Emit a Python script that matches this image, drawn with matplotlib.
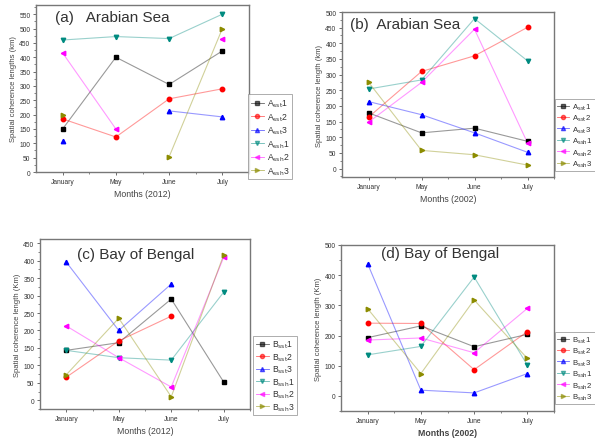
import numpy as np
import matplotlib
matplotlib.use("Agg")
import matplotlib.pyplot as plt
from matplotlib.lines import Line2D

plt.rcParams['font.family'] = ['Liberation Sans', 'DejaVu Sans']

months = ["January", "May", "June", "July"]
nan = np.nan

# (a) Arabian Sea 2012
a_sst1 = [150, 400, 305, 422]
a_sst2 = [185, 122, 255, 290]
a_sst3 = [108, nan, 213, 192]
a_ssh1 = [460, 472, 465, 550]
a_ssh2 = [415, 150, nan, 465]
a_ssh3 = [200, nan, 53, 500]

# (b) Arabian Sea 2002
b_sst1 = [178, 114, 129, 87]
b_sst2 = [164, 310, 360, 451]
b_sst3 = [214, 172, 114, 52]
b_ssh1 = [254, 283, 479, 344]
b_ssh2 = [148, 275, 445, 82]
b_ssh3 = [276, 58, 44, 11]

# (c) Bay of Bengal 2012
c_sst1 = [143, 165, 290, 52]
c_sst2 = [66, 170, 241, nan]
c_sst3 = [396, 200, 333, nan]
c_ssh1 = [143, 122, 115, 310]
c_ssh2 = [213, 122, 38, 410]
c_ssh3 = [73, 235, 10, 417]

# (d) Bay of Bengal 2002
d_sst1 = [193, 232, 163, 204]
d_sst2 = [241, 240, 87, 213]
d_sst3 = [438, 19, 10, 74]
d_ssh1 = [136, 164, 394, 102]
d_ssh2 = [185, 192, 143, 290]
d_ssh3 = [289, 74, 318, 124]

colors = ["#000000", "#ff0000", "#0000ff", "#008b80", "#ff00ff", "#8c8c00"]
markers = ["s", "o", "^", "v", "<", ">"]

fig = plt.figure(figsize=(5.95, 4.39), dpi=100)
W, H = 595, 439


def px_axes(x0, y0, x1, y1):
    return fig.add_axes([x0 / W, (H - y1) / H, (x1 - x0) / W, (y1 - y0) / H])


def panel(ax, series, labels, title, tpos, ylabel, xlabel, ylim, ymajor, yminor,
          leg_pos, leg_fs=6.2, xbold=False):
    x = np.arange(len(months))
    for s, c, m in zip(series, colors, markers):
        y = np.array(s, dtype=float)
        ax.plot(x, y, '-', color=c, lw=0.8, alpha=0.4, zorder=2)
        ax.plot(x, y, linestyle='None', color=c, marker=m, ms=3.2,
                mec=c, mfc=c, zorder=3)
    ax.set_xlim(-0.5, 3.5)
    ax.set_ylim(*ylim)
    ax.set_xticks(x)
    ax.set_xticklabels(months, fontsize=4.8)
    ax.set_xticks(np.arange(0.0, 3.6, 0.5), minor=True)
    ax.set_yticks(ymajor)
    ax.set_yticklabels([str(v) for v in ymajor], fontsize=4.8)
    ax.set_yticks(yminor, minor=True)
    ax.tick_params(axis='both', which='major', direction='out', length=2.5,
                   width=0.6, pad=1.5, colors="#555555", labelcolor="#333333")
    ax.tick_params(axis='both', which='minor', direction='out', length=1.5,
                   width=0.5, colors="#555555")
    for sp in ax.spines.values():
        sp.set_color("#777777")
        sp.set_linewidth(1.0)
    ax.set_ylabel(ylabel, fontsize=5.5, color="#444444", labelpad=2)
    ax.set_xlabel(xlabel, fontsize=6.3, color="#444444", labelpad=3,
                  fontweight='bold' if xbold else 'normal')
    ax.text(tpos[0], tpos[1], title, transform=ax.transAxes, fontsize=11,
            color="#333333", va='center', ha='left')
    lh = [Line2D([0], [0], color=c, lw=0.6, alpha=0.6, marker=m, ms=3,
                 mfc=c, mec=c) for c, m in zip(colors, markers)]
    lx0, ly0 = leg_pos
    leg = fig.legend(lh, labels, loc='upper left',
                     bbox_to_anchor=(lx0 / W, (H - ly0) / H),
                     fontsize=leg_fs, frameon=True, fancybox=False,
                     handlelength=1.5, handletextpad=0.35, labelspacing=0.12,
                     borderpad=0.3, borderaxespad=0.0)
    leg.get_frame().set_edgecolor("#888888")
    leg.get_frame().set_linewidth(0.6)
    for t in leg.get_texts():
        t.set_color("#333333")


la = [r"A$_{\rm sst}$1", r"A$_{\rm sst}$2", r"A$_{\rm sst}$3",
      r"A$_{\rm ssh}$1", r"A$_{\rm ssh}$2", r"A$_{\rm ssh}$3"]
lb = [r"B$_{\rm sst}$1", r"B$_{\rm sst}$2", r"B$_{\rm sst}$3",
      r"B$_{\rm ssh}$1", r"B$_{\rm ssh}$2", r"B$_{\rm ssh}$3"]

axa = px_axes(36, 6, 249, 173)
panel(axa, [a_sst1, a_sst2, a_sst3, a_ssh1, a_ssh2, a_ssh3], la,
      "(a)   Arabian Sea", (0.09, 0.93),
      "Spatial coherence lengths (km)", "Months (2012)", (0, 582),
      np.arange(0, 551, 50), np.arange(25, 580, 50), (248, 95))

axb = px_axes(342, 13, 554, 178)
panel(axb, [b_sst1, b_sst2, b_sst3, b_ssh1, b_ssh2, b_ssh3], la,
      "(b)  Arabian Sea", (0.04, 0.93),
      "Spatial coherence length (km)", "Months (2002)", (-27, 500),
      np.arange(0, 501, 50), np.arange(-25, 500, 50), (555, 100), leg_fs=5.6)

axc = px_axes(40, 240, 250, 410)
panel(axc, [c_sst1, c_sst2, c_sst3, c_ssh1, c_ssh2, c_ssh3], lb,
      "(c) Bay of Bengal", (0.175, 0.91),
      "Spatial coherence length (Km)", "Months (2012)", (-25, 462),
      np.arange(0, 451, 50), np.arange(-25, 460, 50), (253, 337))

axd = px_axes(341, 246, 554, 412)
panel(axd, [d_sst1, d_sst2, d_sst3, d_ssh1, d_ssh2, d_ssh3], lb,
      "(d) Bay of Bengal", (0.19, 0.95),
      "Spatial coherence length (Km)", "Months (2002)", (-50, 500),
      np.arange(0, 501, 100), np.arange(-50, 500, 50), (555, 333), leg_fs=5.6,
      xbold=True)

fig.savefig("out.png", dpi=100)
